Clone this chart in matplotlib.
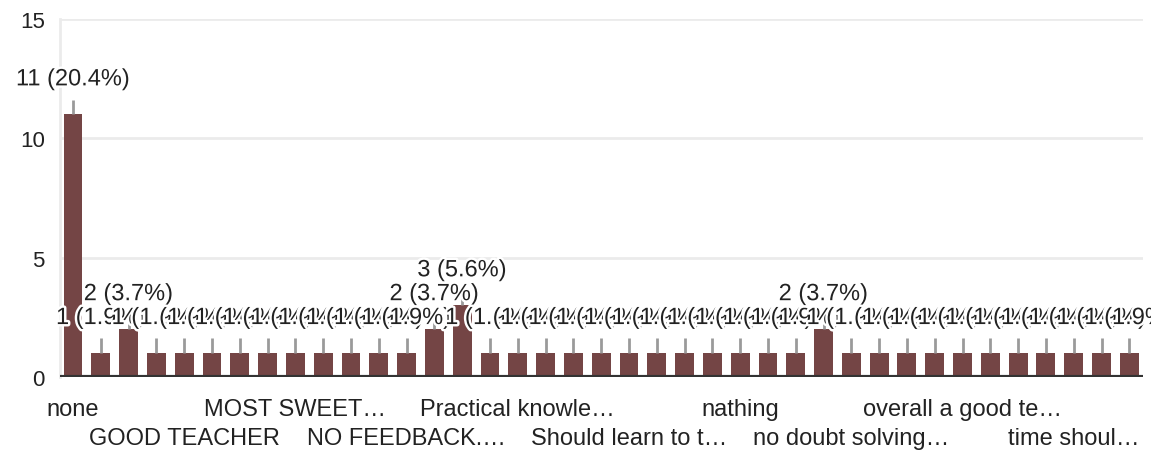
import matplotlib
matplotlib.use("Agg")
import matplotlib.pyplot as plt
import matplotlib.patheffects as pe

# responses per answer (39 distinct answers, 54 total)
counts = [11, 1, 2, 1, 1, 1, 1, 1, 1, 1, 1, 1, 1, 2, 3, 1, 1, 1, 1, 1,
          1, 1, 1, 1, 1, 1, 1, 2, 1, 1, 1, 1, 1, 1, 1, 1, 1, 1, 1]

# only every 4th category label is visible in the chart
categories = [""] * len(counts)
shown_labels = {0: "none", 4: "GOOD TEACHER", 8: "MOST SWEET\u2026",
                12: "NO FEEDBACK.\u2026", 16: "Practical knowle\u2026",
                20: "Should learn to t\u2026", 24: "nathing",
                28: "no doubt solving\u2026", 32: "overall a good te\u2026",
                36: "time shoul\u2026"}
for k, v in shown_labels.items():
    categories[k] = v

y_ticks = [0, 5, 10, 15]

BAR_COLOR = "#744545"
TEXT_COLOR = "#222222"


def plot_bars():
    plt.rcParams['font.family'] = ['Liberation Sans', 'DejaVu Sans']
    fig = plt.figure(figsize=(11.51, 4.52), dpi=100)
    ax = fig.add_axes([0.0521, 0.1637, 0.9409, 0.7921])

    total = sum(counts)
    x = list(range(len(counts)))
    ax.bar(x, counts, width=0.68, color=BAR_COLOR, zorder=2)

    # value labels with leader lines, drawn in order so later ones overlap
    halo = [pe.withStroke(linewidth=3.5, foreground="white")]
    for i, c in enumerate(counts):
        ax.plot([i, i], [c, c + 0.62], color="#9a9a9a", lw=2, zorder=3,
                solid_capstyle="butt")
        pct = 100.0 * c / total
        ax.text(i, c + 1.47, f"{c} ({pct:.1f}%)", ha="center", va="center",
                fontsize=17, color=TEXT_COLOR, path_effects=halo, zorder=4 + i)

    ax.set_xlim(-0.47, len(counts) - 0.51)
    ax.set_ylim(0, 15)

    ax.set_yticks(y_ticks)
    ax.set_yticklabels([str(t) for t in y_ticks])
    for t in y_ticks[1:]:
        ax.axhline(t, color="#ebebeb", lw=2, zorder=0)
    ax.axhline(0, color="#333333", lw=3, zorder=5)

    tick_pos = sorted(shown_labels)
    tick_txt = []
    for n, p in enumerate(tick_pos):
        tick_txt.append(categories[p] if n % 2 == 0 else "\n" + categories[p])
    ax.set_xticks(tick_pos)
    ax.set_xticklabels(tick_txt, fontsize=17, color=TEXT_COLOR, linespacing=1.42)

    ax.tick_params(axis="x", length=0, pad=15)
    ax.tick_params(axis="y", length=0, pad=11, labelsize=16, labelcolor=TEXT_COLOR)

    for side in ["top", "right", "bottom"]:
        ax.spines[side].set_visible(False)
    ax.spines["left"].set_color("#ebebeb")
    ax.spines["left"].set_linewidth(2)

    fig.savefig("out.png", dpi=100)


if __name__ == '__main__':
    plot_bars()
